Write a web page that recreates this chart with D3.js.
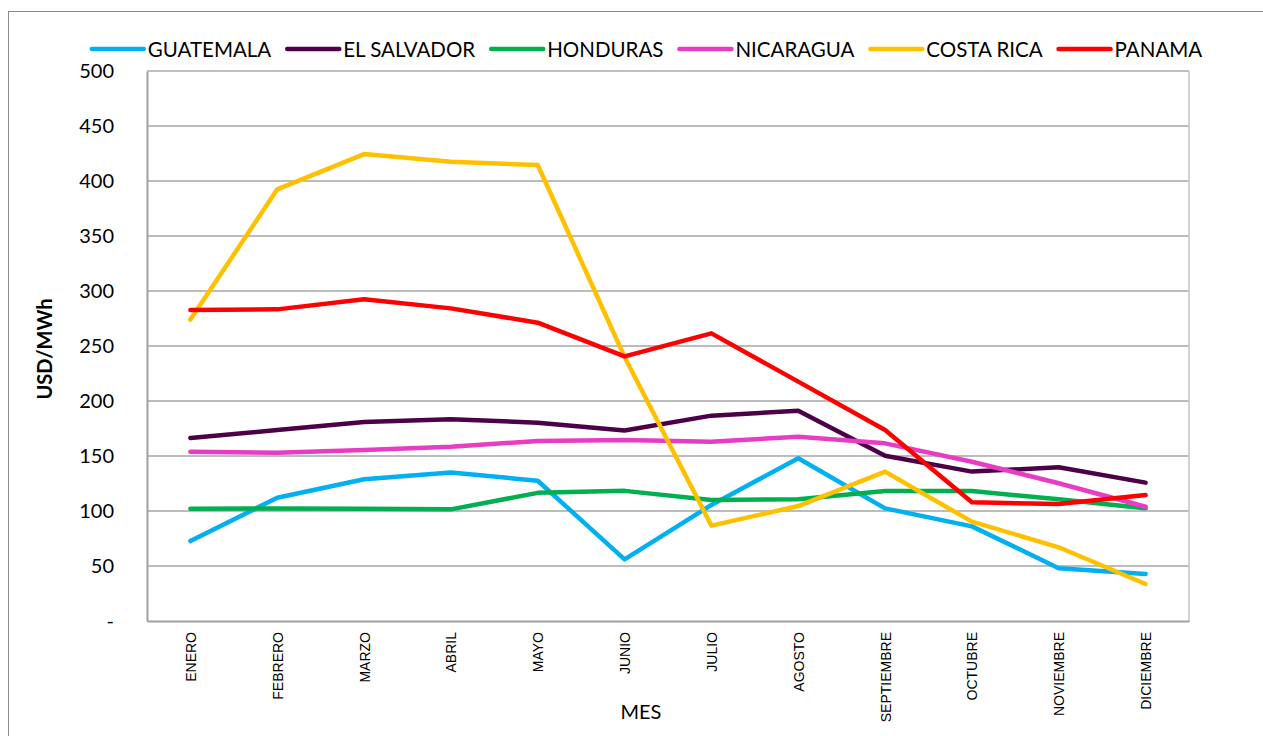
<!DOCTYPE html>
<html>
<head>
<meta charset="utf-8">
<script src="https://cdn.jsdelivr.net/npm/d3@7"></script>
<style>
  html, body { margin: 0; padding: 0; background: #fff; }
  #chart { width: 1263px; height: 736px; }
</style>
</head>
<body>
<div id="chart"></div>
<script>
// Data
const months = ["ENERO", "FEBRERO", "MARZO", "ABRIL", "MAYO", "JUNIO", "JULIO", "AGOSTO", "SEPTIEMBRE", "OCTUBRE", "NOVIEMBRE", "DICIEMBRE"];
const countries = ["GUATEMALA", "EL SALVADOR", "HONDURAS", "NICARAGUA", "COSTA RICA", "PANAMA"];
const guatemala = [72.7, 112, 128.8, 135, 127.5, 56, 105.5, 148, 102.4, 86, 48, 42.7];
const elSalvador = [166.4, 173.6, 181, 183.3, 180.3, 173.2, 186.7, 191.2, 150.3, 135.8, 139.7, 125.8];
const honduras = [102, 102.3, 102, 101.5, 116.5, 118.3, 110, 110.6, 118.2, 118.2, 110.6, 102.4];
const nicaragua = [153.9, 153, 155.5, 158.5, 163.6, 164.5, 163, 167.6, 161.5, 144.8, 125.2, 103.9];
const costaRica = [274, 392.4, 424.5, 417.6, 414.5, 240, 86.7, 104.5, 135.8, 90.3, 67, 33.6];
const panama = [282.7, 283.3, 292.4, 284.2, 271.2, 240.5, 261.5, 217.6, 173.6, 107.9, 106.4, 114.5];
const yTicks = [0, 50, 100, 150, 200, 250, 300, 350, 400, 450, 500];
const colors = ["#00b0f0", "#4d0047", "#00b050", "#e83cc4", "#ffc000", "#ff0000"];

const seriesValues = [guatemala, elSalvador, honduras, nicaragua, costaRica, panama];
const series = countries.map((name, i) => ({ name: name, color: colors[i], values: seriesValues[i] }));

const W = 1263, H = 736;
const margin = { left: 147, right: 74, top: 71, bottom: 115 };

const svg = d3.select("#chart").append("svg")
    .attr("width", W)
    .attr("height", H);

// outer frame
svg.append("rect")
    .attr("x", 8.5).attr("y", 11.5)
    .attr("width", W).attr("height", H)
    .attr("fill", "none")
    .attr("stroke", "#8c8c8c")
    .attr("stroke-width", 1);

const x = d3.scalePoint()
    .domain(months)
    .range([margin.left, W - margin.right])
    .padding(0.5);

const y = d3.scaleLinear()
    .domain([0, 500])
    .range([H - margin.bottom, margin.top]);

// gridlines
svg.append("g")
  .selectAll("line")
  .data(yTicks.filter(d => d > 0))
  .join("line")
    .attr("x1", margin.left).attr("x2", W - margin.right)
    .attr("y1", d => y(d)).attr("y2", d => y(d))
    .attr("stroke", "#a6a6a6")
    .attr("stroke-width", 1.6);

// plot border
svg.append("line")
    .attr("x1", W - margin.right).attr("x2", W - margin.right)
    .attr("y1", margin.top).attr("y2", H - margin.bottom)
    .attr("stroke", "#c8c8c8").attr("stroke-width", 1.6);
svg.append("line")
    .attr("x1", margin.left).attr("x2", W - margin.right)
    .attr("y1", margin.top).attr("y2", margin.top)
    .attr("stroke", "#c0c0c0").attr("stroke-width", 1.6);

// y axis
const yAxis = svg.append("g")
    .attr("transform", `translate(${margin.left},0)`)
    .call(d3.axisLeft(y).tickValues(yTicks).tickSize(0).tickPadding(33)
      .tickFormat(d => d === 0 ? "-" : d));
yAxis.select(".domain").attr("stroke", "#a0a0a0").attr("stroke-width", 2);
yAxis.selectAll("text")
    .attr("font-family", "Lato, 'Open Sans', sans-serif")
    .attr("font-size", 20)
    .attr("fill", "#000");

// x axis
const xAxis = svg.append("g")
    .attr("transform", `translate(0,${H - margin.bottom})`)
    .call(d3.axisBottom(x).tickSize(0).tickPadding(0));
xAxis.select(".domain").attr("stroke", "#a0a0a0").attr("stroke-width", 2);
xAxis.selectAll("text")
    .attr("font-family", "'Liberation Sans', Arial, sans-serif")
    .attr("font-size", 14)
    .attr("fill", "#000")
    .attr("text-anchor", "end")
    .attr("dy", null)
    .attr("y", 0)
    .attr("transform", "translate(5,11) rotate(-90)");

// lines
const line = d3.line()
    .x((d, i) => x(months[i]))
    .y(d => y(d));

svg.append("g")
  .selectAll("path")
  .data(series)
  .join("path")
    .attr("d", d => line(d.values))
    .attr("fill", "none")
    .attr("stroke", d => d.color)
    .attr("stroke-width", 4.5)
    .attr("stroke-linejoin", "round")
    .attr("stroke-linecap", "round");

// axis titles
svg.append("text")
    .attr("x", 641)
    .attr("y", 719)
    .attr("text-anchor", "middle")
    .attr("font-family", "Lato, 'Open Sans', sans-serif")
    .attr("font-size", 20)
    .text("MES");

svg.append("text")
    .attr("transform", `translate(52,${(margin.top + H - margin.bottom) / 2 + 3}) rotate(-90)`)
    .attr("text-anchor", "middle")
    .attr("font-family", "Lato, 'Open Sans', sans-serif")
    .attr("font-weight", "bold")
    .attr("font-size", 20)
    .text("USD/MWh");

// legend
const legend = svg.append("g");
let lx = 0;
series.forEach(s => {
  const item = legend.append("g").attr("transform", `translate(${lx},0)`);
  item.append("line")
      .attr("x1", 2).attr("x2", 54)
      .attr("y1", 0).attr("y2", 0)
      .attr("stroke", s.color)
      .attr("stroke-width", 4.5)
      .attr("stroke-linecap", "round");
  const t = item.append("text")
      .attr("x", 58)
      .attr("y", 7.5)
      .attr("font-family", "Lato, 'Open Sans', sans-serif")
      .attr("font-size", 20.5)
      .text(s.name);
  lx += 58 + t.node().getComputedTextLength() + 14;
});
const legendWidth = lx - 14;
legend.attr("transform", `translate(${646 - legendWidth / 2},49)`);
</script>
</body>
</html>
